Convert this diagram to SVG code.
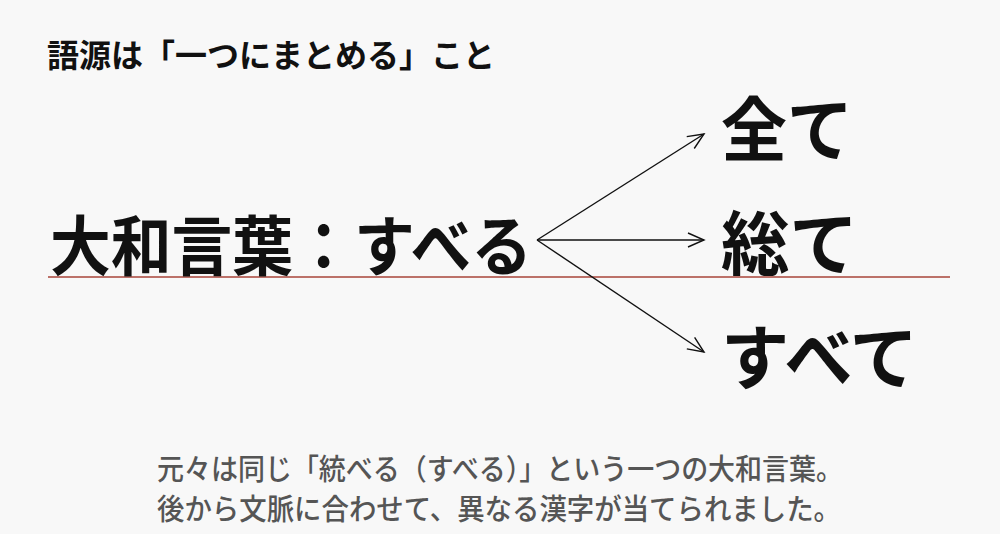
<svg xmlns="http://www.w3.org/2000/svg" width="1000" height="534" viewBox="0 0 1000 534">
  <style>
    .t { font-family: "Noto Sans CJK JP", "Noto Sans", sans-serif; fill: #111; }
    .title { font-size: 32px; font-weight: 700; }
    .big { font-size: 65px; font-weight: 700; }
    .out { font-size: 70px; font-weight: 700; }
    .note { font-size: 29px; font-weight: 500; fill: #555; }
    .arrow { stroke: #111; stroke-width: 1.4; fill: none; }
  </style>
  <defs>
    <marker id="ah" viewBox="0 0 20 20" refX="18" refY="10" markerWidth="20" markerHeight="20" markerUnits="userSpaceOnUse" orient="auto">
      <path d="M2,3 L18,10 L2,17" fill="none" stroke="#111" stroke-width="1.4"/>
    </marker>
  </defs>
  <rect width="1000" height="534" fill="#f8f8f8"/>
  <g id="title">
    <text class="t title" x="47" y="67" textLength="448" lengthAdjust="spacingAndGlyphs">語源は「一つにまとめる」こと</text>
  </g>
  <g id="baseline-rule">
    <line x1="48" y1="277" x2="950" y2="277" stroke="#a8453a" stroke-width="1.5"/>
  </g>
  <g id="source">
    <text class="t big" x="50" y="270" textLength="482" lengthAdjust="spacingAndGlyphs">大和言葉：すべる</text>
  </g>
  <g id="connectors">
    <line class="arrow" x1="537" y1="240" x2="704" y2="134" marker-end="url(#ah)"/>
    <line class="arrow" x1="537" y1="240" x2="704" y2="240" marker-end="url(#ah)"/>
    <line class="arrow" x1="537" y1="240" x2="704" y2="352" marker-end="url(#ah)"/>
  </g>
  <g id="out-zen">
    <text class="t out" x="721" y="156" textLength="132" lengthAdjust="spacingAndGlyphs">全て</text>
  </g>
  <g id="out-so">
    <text class="t out" x="721" y="270" textLength="137" lengthAdjust="spacingAndGlyphs">総て</text>
  </g>
  <g id="out-subete">
    <text class="t out" x="721" y="384" textLength="197" lengthAdjust="spacingAndGlyphs">すべて</text>
  </g>
  <g id="note">
    <text class="t note" x="157" y="480" textLength="686" lengthAdjust="spacingAndGlyphs">元々は同じ「統べる（すべる）」という一つの大和言葉。</text>
    <text class="t note" x="157" y="520" textLength="684" lengthAdjust="spacingAndGlyphs">後から文脈に合わせて、異なる漢字が当てられました。</text>
  </g>
</svg>
